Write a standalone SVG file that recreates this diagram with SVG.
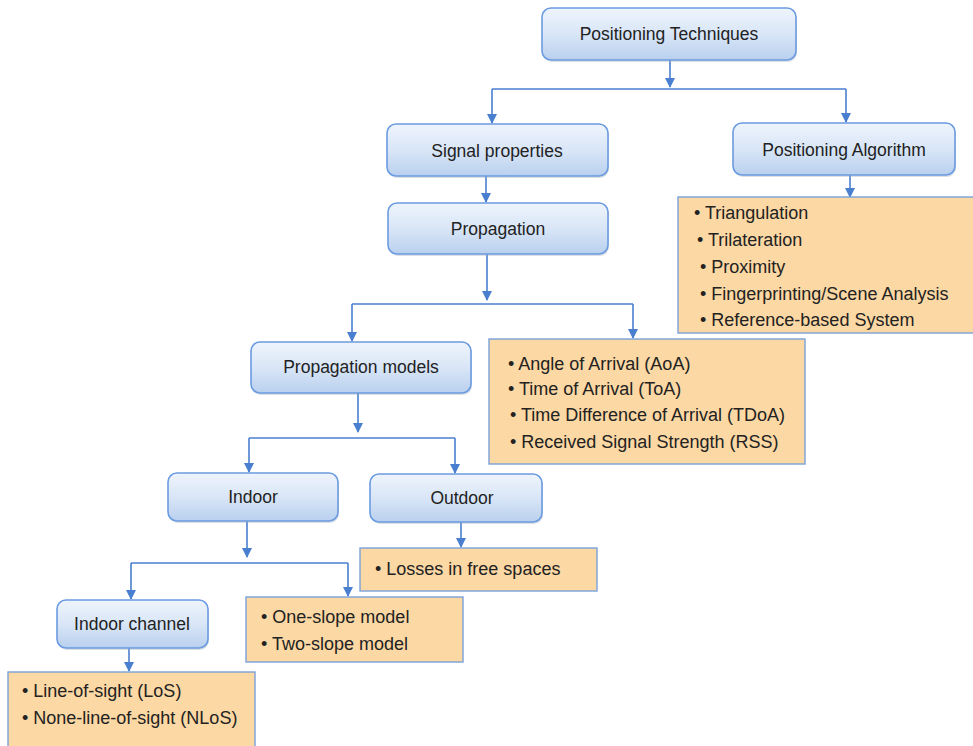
<svg xmlns="http://www.w3.org/2000/svg" width="973" height="746" viewBox="0 0 973 746">
  <defs>
    <linearGradient id="nodeFill" x1="0" y1="0" x2="0" y2="1">
      <stop offset="0" stop-color="#eef4fc"/>
      <stop offset="0.5" stop-color="#d9e6f7"/>
      <stop offset="1" stop-color="#b9d0ee"/>
    </linearGradient>
    <marker id="arrow" viewBox="0 0 10 10" refX="9" refY="5" markerWidth="10" markerHeight="10" markerUnits="userSpaceOnUse" orient="auto">
      <path d="M0,0 L10,5 L0,10 z" fill="#4a7fd0"/>
    </marker>
  </defs>
  <style>
    .node rect.box { fill: url(#nodeFill); stroke: #6b9be0; stroke-width: 1.6; }
    .node rect.shadow { fill: #9aa6b4; opacity: 0.35; }
    .list rect { fill: #fcd8a4; stroke: #7aa1da; stroke-width: 1.4; }
    text { font-family: "Liberation Sans", Arial, sans-serif; font-size: 18px; fill: #222; }
    .node text { text-anchor: middle; font-size: 17.5px; }
    .conn path { fill: none; stroke: #4a7fd0; stroke-width: 1.6; }
    .conn path.arr { marker-end: url(#arrow); }
  </style>
  <rect width="973" height="746" fill="#ffffff"/>

  <!-- connectors -->
  <g id="connectors" class="conn">
    <path class="arr" d="M670,60 V87"/>
    <path d="M492,89 H846"/>
    <path class="arr" d="M492,89 V123"/>
    <path class="arr" d="M846,89 V122"/>
    <path class="arr" d="M486,176 V202"/>
    <path class="arr" d="M850,175 V197"/>
    <path class="arr" d="M487,254 V300"/>
    <path d="M352,304 H633"/>
    <path class="arr" d="M352,304 V341"/>
    <path class="arr" d="M633,304 V338"/>
    <path class="arr" d="M358,393 V432"/>
    <path d="M249,438 H455"/>
    <path class="arr" d="M249,438 V472"/>
    <path class="arr" d="M455,438 V473"/>
    <path class="arr" d="M461,522 V547"/>
    <path class="arr" d="M247,521 V557"/>
    <path d="M131,563 H348"/>
    <path class="arr" d="M131,563 V599"/>
    <path class="arr" d="M348,563 V596"/>
    <path class="arr" d="M129,648 V671"/>
  </g>

  <!-- rounded nodes -->
  <g id="positioning-techniques" class="node">
    <rect class="shadow" x="543" y="10" width="254" height="52" rx="9"/>
    <rect class="box" x="542" y="8" width="254" height="52" rx="9"/>
    <text x="669" y="40">Positioning Techniques</text>
  </g>
  <g id="signal-properties" class="node">
    <rect class="shadow" x="388" y="126" width="221" height="52" rx="9"/>
    <rect class="box" x="387" y="124" width="221" height="52" rx="9"/>
    <text x="497" y="157">Signal properties</text>
  </g>
  <g id="positioning-algorithm" class="node">
    <rect class="shadow" x="734" y="125" width="222" height="52" rx="9"/>
    <rect class="box" x="733" y="123" width="222" height="52" rx="9"/>
    <text x="844" y="156">Positioning Algorithm</text>
  </g>
  <g id="propagation" class="node">
    <rect class="shadow" x="389" y="205" width="220" height="51" rx="9"/>
    <rect class="box" x="388" y="203" width="220" height="51" rx="9"/>
    <text x="498" y="235">Propagation</text>
  </g>
  <g id="propagation-models" class="node">
    <rect class="shadow" x="252" y="344" width="220" height="51" rx="9"/>
    <rect class="box" x="251" y="342" width="220" height="51" rx="9"/>
    <text x="361" y="373">Propagation models</text>
  </g>
  <g id="indoor" class="node">
    <rect class="shadow" x="169" y="475" width="170" height="48" rx="9"/>
    <rect class="box" x="168" y="473" width="170" height="48" rx="9"/>
    <text x="253" y="503">Indoor</text>
  </g>
  <g id="outdoor" class="node">
    <rect class="shadow" x="371" y="476" width="172" height="48" rx="9"/>
    <rect class="box" x="370" y="474" width="172" height="48" rx="9"/>
    <text x="462" y="504">Outdoor</text>
  </g>
  <g id="indoor-channel" class="node">
    <rect class="shadow" x="58" y="602" width="151" height="48" rx="9"/>
    <rect class="box" x="57" y="600" width="151" height="48" rx="9"/>
    <text x="132" y="630">Indoor channel</text>
  </g>

  <!-- bullet lists -->
  <g id="algorithms-list" class="list">
    <rect x="678" y="197" width="300" height="136"/>
    <text x="694" y="219">• Triangulation</text>
    <text x="697" y="246">• Trilateration</text>
    <text x="700" y="273">•  Proximity</text>
    <text x="700" y="300">•  Fingerprinting/Scene Analysis</text>
    <text x="700" y="326">•  Reference-based System</text>
  </g>
  <g id="signal-list" class="list">
    <rect x="489" y="339" width="316" height="125"/>
    <text x="508" y="370">• Angle of Arrival (AoA)</text>
    <text x="508" y="395">• Time of Arrival (ToA)</text>
    <text x="510" y="421">• Time Difference of Arrival (TDoA)</text>
    <text x="510" y="448">• Received Signal Strength (RSS)</text>
  </g>
  <g id="outdoor-list" class="list">
    <rect x="360" y="548" width="237" height="43"/>
    <text x="375" y="575">• Losses in free spaces</text>
  </g>
  <g id="indoor-models-list" class="list">
    <rect x="246" y="597" width="217" height="65"/>
    <text x="261" y="623">• One-slope model</text>
    <text x="261" y="650">• Two-slope model</text>
  </g>
  <g id="indoor-channel-list" class="list">
    <rect x="8" y="672" width="247" height="80"/>
    <text x="22" y="697">• Line-of-sight (LoS)</text>
    <text x="22" y="724">• None-line-of-sight (NLoS)</text>
  </g>
</svg>
